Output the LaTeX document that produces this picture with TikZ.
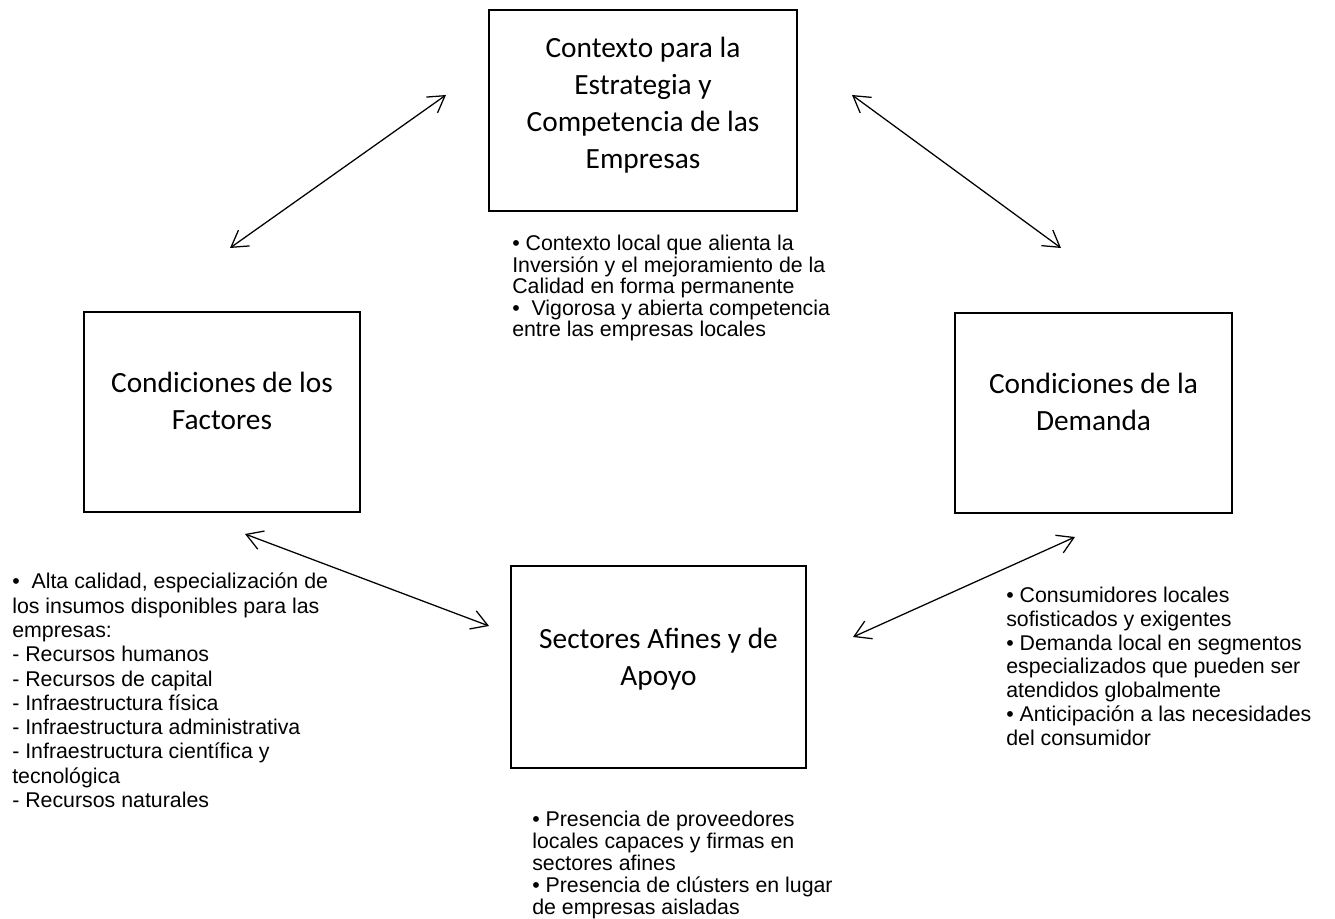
\documentclass[tikz,border=0pt]{standalone}
\usepackage{fontspec}
\setmainfont{Liberation Sans}
\newfontfamily\boxfont{Carlito}
\usetikzlibrary{arrows.meta,calc}

\tikzset{
  framebox/.style={draw, line width=1.9pt, inner sep=0pt},
  boxlabel/.style={align=center, inner sep=0pt,
    font=\boxfont\fontsize{22}{27.75}\selectfont},
  notetext/.style={anchor=north west, align=left, inner sep=0pt},
  linkarrow/.style={line width=0.95pt, {Straight Barb[length=12pt,width=14.5pt]}-{Straight Barb[length=12pt,width=14.5pt]}}
}

\begin{document}
\begin{tikzpicture}[x=0.75pt,y=0.75pt,yscale=-1]
%set diagram size
\useasboundingbox (0,0) rectangle (1335,919);

%Shape: Rectangle [Contexto]
\node [framebox, minimum width=231pt, minimum height=150.75pt] (ctx) at (643,110.5) {};
\node [boxlabel] (ctxlabel) at ($(ctx)+(0,-5.5)$)
  {Contexto para la\\Estrategia y\\Competencia de las\\Empresas};
%Shape: Rectangle [Factores]
\node [framebox, minimum width=207pt, minimum height=150pt] (fac) at (222,412) {};
\node [boxlabel] (faclabel) at ($(fac)+(0,-11)$)
  {Condiciones de los\\Factores};
%Shape: Rectangle [Demanda]
\node [framebox, minimum width=207.75pt, minimum height=150pt] (dem) at (1093.5,413) {};
\node [boxlabel] (demlabel) at ($(dem)+(0,-11)$)
  {Condiciones de la\\Demanda};
%Shape: Rectangle [Sectores]
\node [framebox, minimum width=221.25pt, minimum height=151.5pt] (sec) at (658.5,667) {};
\node [boxlabel] (seclabel) at ($(sec)+(0,-7.5)$)
  {Sectores Afines y de\\Apoyo};

% Text Node
\node [notetext, font=\fontsize{16}{16.1}\selectfont] (ctxnote) at (512,235)
  {• Contexto local que alienta la\\Inversión y el mejoramiento de la\\Calidad en forma permanente\\•\ \ Vigorosa y abierta competencia\\entre las empresas locales};
% Text Node
\node [notetext, font=\fontsize{16}{18.2}\selectfont] (facnote) at (12,573)
  {•\ \ Alta calidad, especialización de\\los insumos disponibles para las\\empresas:\\- Recursos humanos\\- Recursos de capital\\- Infraestructura física\\- Infraestructura administrativa\\- Infraestructura científica y\\tecnológica\\- Recursos naturales};
% Text Node
\node [notetext, font=\fontsize{16}{17.8}\selectfont] (demnote) at (1006,587)
  {• Consumidores locales\\sofisticados y exigentes\\• Demanda local en segmentos\\especializados que pueden ser\\atendidos globalmente\\• Anticipación a las necesidades\\del consumidor};
% Text Node
\node [notetext, font=\fontsize{16}{16.5}\selectfont] (secnote) at (532,811)
  {• Presencia de proveedores\\locales capaces y firmas en\\sectores afines\\• Presencia de clústers en lugar\\de empresas aisladas};

%Straight Lines [arrow ends]
\coordinate (ctxl) at (446,95);
\coordinate (facu) at (230,248);
\coordinate (ctxr) at (852,95);
\coordinate (demu) at (1061,248);
\coordinate (facd) at (245,534);
\coordinate (secl) at (489,626);
\coordinate (demd) at (1075,537);
\coordinate (secr) at (853,637);

\draw [linkarrow] (ctxl) -- (facu);
\draw [linkarrow] (ctxr) -- (demu);
\draw [linkarrow] (facd) -- (secl);
\draw [linkarrow] (demd) -- (secr);

\end{tikzpicture}
\end{document}
